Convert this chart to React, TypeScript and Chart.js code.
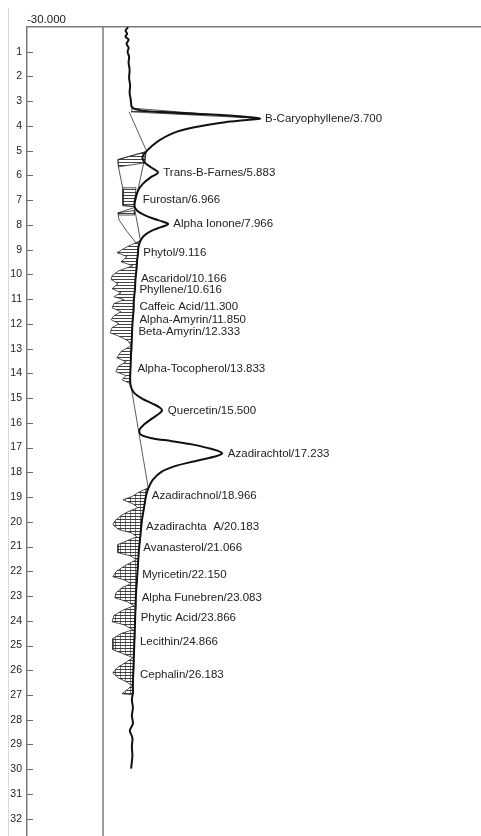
import { useEffect, useRef } from 'react';
import { Chart, registerables } from 'chart.js';

Chart.register(...registerables);

const FONT = "'Liberation Sans', Arial, Helvetica, sans-serif";

// Axis ranges: retention time (min) runs downwards, detector signal to the right
const timeRange = [0, 32.7];
const signalRange = [-30, 149.2];
const timeTicks = [1, 2, 3, 4, 5, 6, 7, 8, 9, 10, 11, 12, 13, 14, 15, 16, 17, 18, 19, 20, 21, 22, 23, 24, 25, 26, 27, 28, 29, 30, 31, 32];
const signalTicks = [-30];

// Chromatogram trace
const traceTime = [
  0.01, 0.15, 0.27, 0.39, 0.51, 0.68, 0.84, 1.0, 1.2, 1.44, 1.73, 2.05, 2.37, 2.66, 2.9, 3.1, 3.22, 3.32,
  3.42, 3.48, 3.55, 3.63, 3.7, 3.76, 3.85, 4.01, 4.23, 4.56, 4.84, 5.04, 5.2, 5.32,
  5.49, 5.67, 5.88, 6.07, 6.33, 6.62, 6.94, 7.22, 7.42, 7.59, 7.75, 7.87, 7.97, 8.09, 8.25, 8.44, 8.64,
  8.88, 9.16, 9.49, 9.81, 10.22, 10.62, 11.02, 11.51, 12.03, 12.56, 13.12, 13.69, 14.17, 14.5,
  14.78, 15.02, 15.23, 15.39, 15.5, 15.63, 15.83, 16.07, 16.28, 16.48,
  16.62, 16.74, 16.88, 17.05, 17.23, 17.37, 17.55, 17.75, 17.99, 18.3, 18.62,
  18.94, 19.43, 19.91, 20.52, 21.13, 21.73, 22.34, 22.95, 23.55, 24.16, 24.76, 25.37, 25.98, 26.54, 26.91,
  27.19, 27.51, 27.84, 28.16, 28.44, 28.73, 29.09, 29.45, 29.78, 29.98,
];
const traceSignal = [
  9.9, 8.9, 9.5, 8.9, 10.1, 9.3, 10.1, 9.7, 10.3, 10.1, 10.5, 10.3, 10.7, 10.5, 10.9, 11.1, 11.3, 12.6,
  18.6, 31.6, 45.0, 56.1, 62.0, 56.9, 48.2, 38.3, 29.2, 22.5, 19.0, 17.0, 15.8, 15.6,
  16.6, 18.9, 21.7, 18.9, 15.8, 13.8, 12.8, 12.4, 13.4, 16.2, 20.1, 23.7, 25.7, 22.9, 18.9, 16.2, 14.8,
  14.0, 13.8, 13.4, 13.2, 12.8, 12.6, 12.2, 12.0, 11.6, 11.4, 11.1, 10.9, 10.7, 10.9,
  12.2, 15.4, 19.7, 22.5, 23.3, 22.1, 19.3, 16.2, 14.4, 15.0,
  19.3, 27.2, 35.5, 42.6, 47.0, 43.8, 36.3, 28.4, 22.9, 19.7, 18.0,
  17.0, 16.2, 15.4, 14.8, 14.2, 13.8, 13.4, 13.0, 12.8, 12.6, 12.4, 12.2, 12.0, 11.8, 11.8,
  11.4, 11.8, 11.4, 11.8, 10.6, 11.6, 11.4, 11.6, 11.3, 11.1,
];

// Integration baselines [signal, time]
const caryBaseline = [[10.3, 3.43], [17.0, 4.97]];
const quercetinBaseline = [[10.7, 14.3], [17.8, 18.6]];

// Integrated areas [signal, time]; outlines and hatched bands
const caryArea = [[11.4, 3.28], [61.2, 3.69], [11.1, 3.43], [11.4, 3.28]];
const farnesOutline = [
  [17.0, 5.04], [5.9, 5.36], [6.1, 5.65], [7.1, 6.17], [7.9, 6.58], [7.9, 7.22], [12.4, 7.26], [17.0, 5.04],
];
const farnesBand = [[17.0, 5.04], [5.9, 5.36], [6.1, 5.65], [16.6, 5.49], [17.0, 5.04]];
const furostanBand = [[7.9, 6.5], [13.0, 6.5], [12.4, 7.26], [7.9, 7.22], [7.9, 6.5]];
const iononeOutline = [
  [12.4, 7.3], [5.9, 7.51], [6.3, 7.79], [9.5, 8.27], [13.0, 8.72], [14.8, 8.64], [12.4, 7.3],
];
const iononeBand = [[5.9, 7.51], [12.4, 7.42], [12.4, 7.6], [6.3, 7.6], [5.9, 7.51]];
const midArea = [
  [14.8, 8.64], [10.3, 8.84], [5.5, 9.12], [9.5, 9.28], [7.1, 9.49], [11.8, 9.65], [6.3, 9.85], [3.6, 10.05],
  [3.2, 10.21], [5.9, 10.38], [3.6, 10.58], [7.1, 10.74], [4.3, 10.9], [8.3, 11.02], [4.3, 11.18], [3.6, 11.35],
  [7.1, 11.51], [4.3, 11.67], [3.2, 11.83], [6.3, 11.99], [3.6, 12.15], [2.8, 12.36], [5.9, 12.48], [9.9, 12.68],
  [11.1, 12.88], [7.1, 13.12], [5.5, 13.37], [9.1, 13.53], [5.9, 13.73], [5.1, 13.93], [9.1, 14.09], [7.5, 14.26],
  [10.9, 14.42], [10.9, 13.69], [11.1, 13.12], [11.4, 12.56], [11.6, 12.03], [12.0, 11.51], [12.2, 11.02],
  [12.6, 10.62], [12.8, 10.22], [13.2, 9.81], [13.4, 9.49], [13.8, 9.16], [14.0, 8.88], [14.8, 8.64],
];
const lateArea = [
  [18.0, 18.62], [14.6, 18.78], [11.4, 18.98], [7.9, 19.11], [11.8, 19.27], [13.8, 19.43], [9.9, 19.59],
  [7.1, 19.75], [4.7, 19.96], [3.9, 20.12], [6.3, 20.32], [11.1, 20.44], [13.4, 20.6], [8.7, 20.8], [5.9, 20.92],
  [5.9, 21.25], [10.7, 21.37], [13.2, 21.53], [8.7, 21.77], [5.1, 22.02], [3.9, 22.22], [8.3, 22.34],
  [11.1, 22.5], [7.5, 22.66], [5.1, 22.87], [4.7, 23.07], [9.5, 23.23], [12.2, 23.39], [7.5, 23.59], [4.3, 23.79],
  [3.6, 24.04], [8.3, 24.16], [11.8, 24.36], [7.1, 24.52], [3.9, 24.72], [3.9, 25.17], [7.9, 25.33],
  [11.8, 25.49], [8.7, 25.7], [5.5, 25.9], [3.9, 26.1], [5.9, 26.3], [9.1, 26.46], [11.4, 26.62], [9.5, 26.79],
  [7.5, 26.95], [11.8, 26.99], [11.8, 26.54], [12.0, 25.98], [12.2, 25.37], [12.4, 24.76], [12.6, 24.16],
  [12.8, 23.55], [13.0, 22.95], [13.4, 22.34], [13.8, 21.73], [14.2, 21.13], [14.8, 20.52], [15.4, 19.91],
  [16.2, 19.43], [17.0, 18.94], [18.0, 18.62],
];

// Identified peaks
const peakNames = [
  'B-Caryophyllene', 'Trans-B-Farnes', 'Furostan', 'Alpha Ionone', 'Phytol', 'Ascaridol', 'Phyllene',
  'Caffeic Acid', 'Alpha-Amyrin', 'Beta-Amyrin', 'Alpha-Tocopherol', 'Quercetin', 'Azadirachtol',
  'Azadirachnol', 'Azadirachta  A', 'Avanasterol', 'Myricetin', 'Alpha Funebren', 'Phytic Acid',
  'Lecithin', 'Cephalin',
];
const peakTimes = [
  3.7, 5.883, 6.966, 7.966, 9.116, 10.166, 10.616, 11.3, 11.85, 12.333, 13.833, 15.5, 17.233,
  18.966, 20.183, 21.066, 22.15, 23.083, 23.866, 24.866, 26.183,
];
const peakSignals = [
  62.0, 21.8, 13.7, 25.8, 13.9, 13.0, 12.4, 12.4, 12.4, 12.0, 11.6, 23.6, 47.3,
  17.3, 15.0, 13.9, 13.5, 13.3, 12.9, 12.6, 12.6,
];

const pts = (arr: number[][]) => arr.map(([x, y]) => ({ x, y }));

function makePattern(grid: boolean) {
  const c = document.createElement('canvas');
  c.width = grid ? 5 : 4;
  c.height = 3;
  const g = c.getContext('2d')!;
  g.fillStyle = 'rgba(35,35,35,0.85)';
  g.fillRect(0, 0, c.width, 1);
  if (grid) {
    g.fillStyle = 'rgba(35,35,35,0.6)';
    g.fillRect(0, 0, 1, c.height);
  }
  return g.createPattern(c, 'repeat');
}

export default function App() {
  const ref = useRef<HTMLCanvasElement>(null);

  useEffect(() => {
    document.body.style.margin = '0';
    const patterns: Record<string, CanvasPattern | null> = {
      h: makePattern(false),
      grid: makePattern(true),
    };

    const pagePlugin = {
      id: 'page',
      beforeDraw(chart: any) {
        const { ctx, width, height } = chart;
        ctx.save();
        ctx.fillStyle = '#ffffff';
        ctx.fillRect(0, 0, width, height);
        ctx.strokeStyle = '#dadada';
        ctx.lineWidth = 1;
        ctx.beginPath();
        ctx.moveTo(8.5, 8);
        ctx.lineTo(8.5, height);
        ctx.stroke();
        ctx.restore();
      },
    };

    const hatchPlugin = {
      id: 'hatch',
      beforeDatasetsDraw(chart: any) {
        const { ctx, chartArea, scales } = chart;
        ctx.save();
        ctx.beginPath();
        ctx.rect(chartArea.left, chartArea.top, chartArea.right - chartArea.left, chartArea.bottom - chartArea.top);
        ctx.clip();
        // zero signal line
        const x0 = scales.x.getPixelForValue(0);
        ctx.strokeStyle = '#7a7a7a';
        ctx.lineWidth = 1.5;
        ctx.beginPath();
        ctx.moveTo(x0, chartArea.top);
        ctx.lineTo(x0, chartArea.bottom);
        ctx.stroke();
        chart.data.datasets.forEach((ds: any, i: number) => {
          if (!ds.hatch) return;
          const els = chart.getDatasetMeta(i).data;
          if (!els.length) return;
          ctx.beginPath();
          els.forEach((p: any, k: number) => (k ? ctx.lineTo(p.x, p.y) : ctx.moveTo(p.x, p.y)));
          ctx.closePath();
          ctx.fillStyle = patterns[ds.hatch] || '#888';
          ctx.fill();
        });
        ctx.restore();
      },
    };

    const decorPlugin = {
      id: 'decor',
      afterDatasetsDraw(chart: any) {
        const { ctx, chartArea, scales } = chart;
        ctx.save();
        // inner tick marks on the time axis
        ctx.strokeStyle = '#6a6a6a';
        ctx.lineWidth = 1;
        timeTicks.forEach((t) => {
          const y = Math.round(scales.y.getPixelForValue(t)) + 0.5;
          ctx.beginPath();
          ctx.moveTo(chartArea.left, y);
          ctx.lineTo(chartArea.left + 6, y);
          ctx.stroke();
        });
        // peak annotations
        ctx.fillStyle = '#222';
        ctx.font = `11.5px ${FONT}`;
        ctx.textBaseline = 'middle';
        ctx.textAlign = 'left';
        peakNames.forEach((name, i) => {
          const x = scales.x.getPixelForValue(peakSignals[i]) + 5;
          const y = scales.y.getPixelForValue(peakTimes[i]);
          ctx.fillText(`${name}/${peakTimes[i].toFixed(3)}`, x, y);
        });
        ctx.restore();
      },
    };

    const areaStyle = (data: number[][], hatch: string) => ({
      data: pts(data),
      showLine: true,
      borderColor: '#2a2a2a',
      borderWidth: 0.8,
      pointRadius: 0,
      tension: 0,
      hatch,
      order: 2,
    });

    const chart = new Chart(ref.current!, {
      type: 'scatter',
      data: {
        datasets: [
          {
            data: traceTime.map((t, i) => ({ x: traceSignal[i], y: t })),
            showLine: true,
            borderColor: '#111',
            borderWidth: 2,
            pointRadius: 0,
            tension: 0.35,
            order: 0,
          },
          { data: pts(caryBaseline), showLine: true, borderColor: '#333', borderWidth: 0.8, pointRadius: 0, order: 1 },
          { data: pts(quercetinBaseline), showLine: true, borderColor: '#333', borderWidth: 0.8, pointRadius: 0, order: 1 },
          areaStyle(caryArea, 'h'),
          areaStyle(farnesOutline, ''),
          areaStyle(farnesBand, 'h'),
          areaStyle(furostanBand, 'h'),
          areaStyle(iononeOutline, ''),
          areaStyle(iononeBand, 'h'),
          areaStyle(midArea, 'h'),
          areaStyle(lateArea, 'grid'),
        ] as any,
      },
      options: {
        responsive: false,
        animation: false,
        layout: { padding: 0, autoPadding: false } as any,
        font: { family: FONT } as any,
        plugins: { legend: { display: false }, tooltip: { enabled: false } },
        scales: {
          x: {
            type: 'linear',
            position: 'top',
            min: signalRange[0],
            max: signalRange[1],
            afterBuildTicks: (s: any) => {
              s.ticks = signalTicks.map((v) => ({ value: v }));
            },
            afterFit: (s: any) => {
              s.height = 27;
              s.paddingLeft = 0;
              s.paddingRight = 0;
            },
            grid: { display: false, drawTicks: false },
            border: { display: true, color: '#7a7a7a', width: 1.5 },
            ticks: {
              align: 'start',
              padding: 0,
              color: '#222',
              font: { family: FONT, size: 11.5 },
              maxRotation: 0,
              autoSkip: false,
              callback: (v: any) => Number(v).toFixed(3),
            },
          },
          y: {
            type: 'linear',
            position: 'left',
            reverse: true,
            min: timeRange[0],
            max: timeRange[1],
            afterBuildTicks: (s: any) => {
              s.ticks = timeTicks.map((v) => ({ value: v }));
            },
            afterFit: (s: any) => {
              s.width = 27;
              s.paddingTop = 0;
              s.paddingBottom = 0;
            },
            grid: { display: false, drawTicks: false },
            border: { display: true, color: '#7a7a7a', width: 1.5 },
            ticks: {
              padding: 5,
              color: '#222',
              font: { family: FONT, size: 10.5 },
              autoSkip: false,
            },
          },
        },
      } as any,
      plugins: [pagePlugin, hatchPlugin, decorPlugin],
    });

    return () => chart.destroy();
  }, []);

  return <canvas ref={ref} width={481} height={836} style={{ display: 'block' }} />;
}
